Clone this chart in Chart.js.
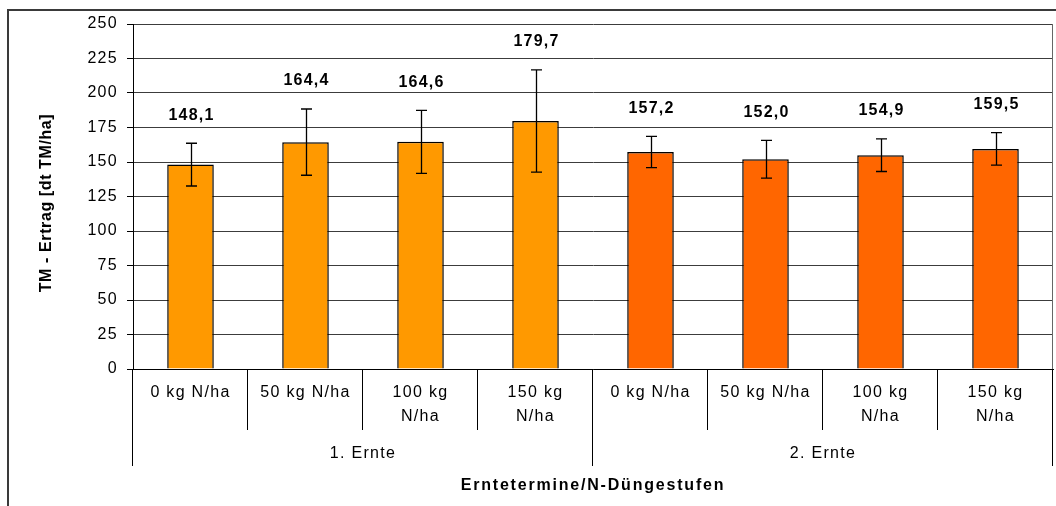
<!DOCTYPE html>
<html>
<head>
<meta charset="utf-8">
<script src="https://cdn.jsdelivr.net/npm/chart.js@4.4.1/dist/chart.umd.min.js"></script>
<style>
  html, body { margin: 0; padding: 0; background: #fff; }
  #wrap { width: 1056px; height: 506px; position: relative; }
</style>
</head>
<body>
<div id="wrap"><canvas id="yieldChart"></canvas></div>
<script>
// Data
const categories = [
    ['0 kg N/ha'], ['50 kg N/ha'], ['100 kg', 'N/ha'], ['150 kg', 'N/ha'],
    ['0 kg N/ha'], ['50 kg N/ha'], ['100 kg', 'N/ha'], ['150 kg', 'N/ha']
];
const groups = ['1. Ernte', '2. Ernte'];
const groupSize = 4;
const yieldValues = [148.1, 164.4, 164.6, 179.7, 157.2, 152.0, 154.9, 159.5];
const yieldErrors = [15.5, 24.0, 22.8, 37.0, 11.3, 13.7, 11.8, 11.8];
const yTicks = [0, 25, 50, 75, 100, 125, 150, 175, 200, 225, 250];

const groupColors = ['#FF9900', '#FF6600'];
const fontFamily = '"Liberation Sans", Arial, sans-serif';
const yTitle = 'TM - Ertrag [dt TM/ha]';
const xTitle = 'Erntetermine/N-Düngestufen';

const barColors = yieldValues.map((v, i) => groupColors[Math.floor(i / groupSize)]);
const fmt = v => v.toFixed(1).replace('.', ',');

// Excel renders small text with wide spacing
const spacingPlugin = {
    id: 'spacing',
    beforeLayout: (chart) => { chart.ctx.letterSpacing = '1.3px'; },
    beforeDraw: (chart) => { chart.ctx.letterSpacing = '1.3px'; }
};

const decorPlugin = {
    id: 'decor',
    beforeDraw: (chart) => {
        const ctx = chart.ctx;
        ctx.save();
        ctx.strokeStyle = '#3a3a3a';
        ctx.lineWidth = 2;
        ctx.beginPath();
        ctx.moveTo(1056, 10);
        ctx.lineTo(8, 10);
        ctx.lineTo(8, 506);
        ctx.stroke();
        ctx.restore();
    },
    afterDatasetsDraw: (chart) => {
        const ctx = chart.ctx;
        const x = chart.scales.x;
        const y = chart.scales.y;
        const area = chart.chartArea;
        const meta = chart.getDatasetMeta(0);

        // error bars
        ctx.save();
        ctx.strokeStyle = '#000';
        ctx.lineWidth = 1.3;
        meta.data.forEach((bar, i) => {
            const top = y.getPixelForValue(yieldValues[i] + yieldErrors[i]);
            const bot = y.getPixelForValue(yieldValues[i] - yieldErrors[i]);
            const cx = Math.round(bar.x) + 0.5;
            ctx.beginPath();
            ctx.moveTo(cx, top); ctx.lineTo(cx, bot);
            ctx.moveTo(cx - 5.5, top); ctx.lineTo(cx + 5.5, top);
            ctx.moveTo(cx - 5.5, bot); ctx.lineTo(cx + 5.5, bot);
            ctx.stroke();
        });
        ctx.restore();

        // value labels above the error bars
        ctx.save();
        ctx.letterSpacing = '1.2px';
        ctx.fillStyle = '#000';
        ctx.font = 'bold 16px ' + fontFamily;
        ctx.textAlign = 'center';
        ctx.textBaseline = 'middle';
        meta.data.forEach((bar, i) => {
            const top = y.getPixelForValue(yieldValues[i] + yieldErrors[i]);
            ctx.fillText(fmt(yieldValues[i]), bar.x + 1, top - 28);
        });
        ctx.restore();

        // plot frame right edge
        ctx.save();
        ctx.strokeStyle = '#666';
        ctx.lineWidth = 1;
        ctx.beginPath();
        ctx.moveTo(area.right - 0.5, area.top);
        ctx.lineTo(area.right - 0.5, area.bottom);
        ctx.stroke();
        ctx.restore();

        // category and group separators (the y axis line continues down too)
        const half = (x.getPixelForValue(1) - x.getPixelForValue(0)) / 2;
        ctx.save();
        ctx.strokeStyle = '#000';
        ctx.lineWidth = 1;
        for (let k = 0; k <= categories.length; k++) {
            const px = Math.round(x.getPixelForValue(k) - half) - 0.5;
            const isGroup = k % groupSize === 0;
            ctx.beginPath();
            ctx.moveTo(px, area.bottom);
            ctx.lineTo(px, area.bottom + (isGroup ? 97 : 61));
            ctx.stroke();
        }
        ctx.restore();

        // group labels and axis titles
        ctx.save();
        ctx.letterSpacing = '1.3px';
        ctx.fillStyle = '#000';
        ctx.textAlign = 'center';
        ctx.textBaseline = 'middle';
        ctx.font = '16px ' + fontFamily;
        groups.forEach((g, gi) => {
            const first = x.getPixelForValue(gi * groupSize) - half;
            const last = x.getPixelForValue(gi * groupSize + groupSize - 1) + half;
            ctx.fillText(g, (first + last) / 2, area.bottom + 85);
        });
        ctx.letterSpacing = '1.8px';
        ctx.font = 'bold 16px ' + fontFamily;
        ctx.fillText(xTitle, (area.left + area.right) / 2, 486);
        ctx.letterSpacing = '0.6px';
        ctx.translate(47, 203);
        ctx.rotate(-Math.PI / 2);
        ctx.fillText(yTitle, 0, 0);
        ctx.restore();
    }
};

const ctx = document.getElementById('yieldChart').getContext('2d');
new Chart(ctx, {
    type: 'bar',
    data: {
        labels: categories,
        datasets: [{
            data: yieldValues,
            backgroundColor: barColors,
            borderColor: '#000',
            borderWidth: 1.5,
            categoryPercentage: 1,
            barPercentage: 0.405
        }]
    },
    options: {
        responsive: true,
        maintainAspectRatio: false,
        animation: false,
        events: [],
        layout: { padding: { top: 24, right: 3, bottom: 0, left: 0 } },
        plugins: {
            legend: { display: false },
            tooltip: { enabled: false }
        },
        scales: {
            x: {
                grid: { display: false, drawTicks: false },
                border: { display: true, color: '#000', width: 1 },
                ticks: {
                    color: '#000',
                    padding: 12,
                    maxRotation: 0,
                    autoSkip: false,
                    font: { family: fontFamily, size: 16, lineHeight: 1.48 }
                },
                afterFit: (scale) => { scale.height = 137; }
            },
            y: {
                min: 0,
                max: 250,
                afterBuildTicks: (scale) => { scale.ticks = yTicks.map(v => ({ value: v })); },
                grid: { color: '#3c3c3c', tickColor: '#000', tickLength: 6, lineWidth: 1 },
                border: { display: true, color: '#000', width: 1 },
                ticks: {
                    color: '#000',
                    padding: 9,
                    font: { family: fontFamily, size: 16 }
                },
                afterFit: (scale) => { scale.width = 133; }
            }
        }
    },
    plugins: [spacingPlugin, decorPlugin]
});
</script>
</body>
</html>
